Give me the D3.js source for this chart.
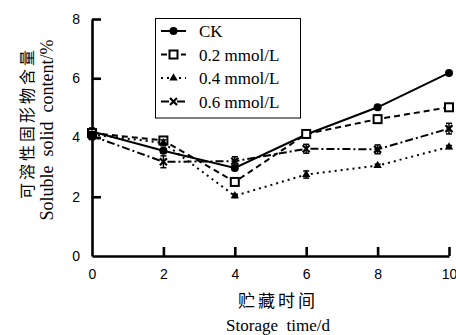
<!DOCTYPE html>
<html lang="zh">
<head>
<meta charset="utf-8">
<title>Soluble solid content</title>
<style>
  body { margin: 0; background: #fff; }
  .tick text { font-family: "Liberation Sans", Arial, sans-serif; font-size: 14px; fill: #000; }
  .serif { font-family: "Liberation Serif", "Times New Roman", serif; }
  .cjk { font-family: "Noto Sans CJK SC", sans-serif; }
</style>
<script src="https://cdn.jsdelivr.net/npm/d3@7/dist/d3.min.js"></script>
</head>
<body>
<script>
var w = 456, h = 335;

// data
var days = [0, 2, 4, 6, 8, 10];
var ck    = [4.20, 3.55, 2.97, 4.10, 5.02, 6.18];
var mm02  = [4.15, 3.90, 2.50, 4.12, 4.62, 5.02];
var mm04  = [4.10, 3.82, 2.03, 2.75, 3.05, 3.68];
var mm06  = [4.05, 3.18, 3.20, 3.62, 3.60, 4.30];
var errCk   = [0.12, 0.08, 0.08, 0.10, 0.05, 0.05];
var errMm02 = [0.10, 0.10, 0.10, 0.10, 0.08, 0.08];
var errMm04 = [0.10, 0.10, 0.06, 0.12, 0.05, 0.05];
var errMm06 = [0.12, 0.20, 0.15, 0.15, 0.15, 0.18];
var xTicks = [0, 2, 4, 6, 8, 10];
var yTicks = [0, 2, 4, 6, 8];

var series = [
  {name: 'CK',          v: ck,   e: errCk,   dash: null,      mark: 'circle'},
  {name: '0.2 mmol/L',  v: mm02, e: errMm02, dash: '6,4',     mark: 'square'},
  {name: '0.4 mmol/L',  v: mm04, e: errMm04, dash: '2,4',     mark: 'triangle'},
  {name: '0.6 mmol/L',  v: mm06, e: errMm06, dash: '8,3,2,3', mark: 'cross'}
];

var svg = d3.select('body').append('svg').attr('width', w).attr('height', h);

var x = d3.scaleLinear().domain([0, 10]).range([92, 449]);
var y = d3.scaleLinear().domain([0, 8]).range([256, 19]);

// axes (ticks point inward)
var gx = svg.append('g').attr('transform', 'translate(0,' + y(0) + ')')
  .call(d3.axisBottom(x).tickValues(xTicks).tickSize(-9).tickPadding(13).tickSizeOuter(0));
var gy = svg.append('g').attr('transform', 'translate(' + x(0) + ',0)')
  .call(d3.axisLeft(y).tickValues(yTicks).tickSize(-9).tickPadding(12).tickSizeOuter(0));
[gx, gy].forEach(function(g){
  g.select('.domain').attr('stroke', '#000').attr('stroke-width', 2.6);
  g.selectAll('.tick line').attr('stroke', '#000').attr('stroke-width', 2.6);
});
gy.selectAll('.tick').filter(function(d){ return d === 0; }).select('line').remove();
gx.selectAll('.tick').filter(function(d){ return d === 0; }).select('line').remove();

var line = d3.line().x(function(d){ return x(d[0]); }).y(function(d){ return y(d[1]); });

function drawMarker(g, type, cx, cy) {
  if (type === 'circle') {
    g.append('circle').attr('cx', cx).attr('cy', cy).attr('r', 4).attr('fill', '#000');
  } else if (type === 'square') {
    g.append('rect').attr('x', cx - 4).attr('y', cy - 4).attr('width', 8).attr('height', 8)
      .attr('fill', '#fff').attr('stroke', '#000').attr('stroke-width', 2);
  } else if (type === 'triangle') {
    g.append('path').attr('d', d3.symbol(d3.symbolTriangle, 30)())
      .attr('transform', 'translate(' + cx + ',' + cy + ')').attr('fill', '#000');
  } else {
    g.append('path').attr('d', 'M-3.5,-3.5L3.5,3.5M-3.5,3.5L3.5,-3.5')
      .attr('transform', 'translate(' + cx + ',' + cy + ')')
      .attr('stroke', '#000').attr('stroke-width', 2.2);
  }
}

var plot = svg.append('g');
series.forEach(function(s){
  var pts = days.map(function(d, i){ return [d, s.v[i]]; });
  plot.append('path').attr('d', line(pts)).attr('fill', 'none')
    .attr('stroke', '#000').attr('stroke-width', 2)
    .attr('stroke-dasharray', s.dash);
  // error bars
  days.forEach(function(d, i){
    var cx = x(d), y1 = y(s.v[i] + s.e[i]), y2 = y(s.v[i] - s.e[i]);
    plot.append('line').attr('x1', cx).attr('x2', cx).attr('y1', y1).attr('y2', y2)
      .attr('stroke', '#000').attr('stroke-width', 1.5);
    [y1, y2].forEach(function(yy){
      plot.append('line').attr('x1', cx - 3).attr('x2', cx + 3).attr('y1', yy).attr('y2', yy)
        .attr('stroke', '#000').attr('stroke-width', 1.5);
    });
  });
  days.forEach(function(d, i){ drawMarker(plot, s.mark, x(d), y(s.v[i])); });
});

// legend
var lg = svg.append('g');
lg.append('rect').attr('x', 155.5).attr('y', 18.5).attr('width', 145).attr('height', 99.5)
  .attr('fill', '#fff').attr('stroke', '#000').attr('stroke-width', 1);
series.forEach(function(s, i){
  var ly = 31 + i * 23.5;
  lg.append('line').attr('x1', 161).attr('x2', 186).attr('y1', ly).attr('y2', ly)
    .attr('stroke', '#000').attr('stroke-width', 2).attr('stroke-dasharray', s.dash);
  drawMarker(lg, s.mark, 173.5, ly);
  lg.append('text').attr('class', 'serif').attr('x', 199).attr('y', ly + 6)
    .attr('font-size', 17).text(s.name);
});

// axis titles
svg.append('text').attr('class', 'cjk').attr('font-size', 16)
  .attr('transform', 'translate(33,123) rotate(-90)').attr('text-anchor', 'middle')
  .attr('letter-spacing', 3).text('可溶性固形物含量');
svg.append('text').attr('class', 'serif').attr('font-size', 18)
  .attr('transform', 'translate(53,130) rotate(-90)').attr('text-anchor', 'middle')
  .attr('xml:space', 'preserve').text('Soluble  solid  content/%');
svg.append('text').attr('class', 'cjk').attr('font-size', 17)
  .attr('x', 278).attr('y', 307).attr('text-anchor', 'middle')
  .attr('letter-spacing', 3).text('贮藏时间');
svg.append('text').attr('class', 'serif').attr('font-size', 17)
  .attr('x', 278).attr('y', 331).attr('text-anchor', 'middle')
  .attr('xml:space', 'preserve').text('Storage  time/d');
</script>
</body>
</html>
